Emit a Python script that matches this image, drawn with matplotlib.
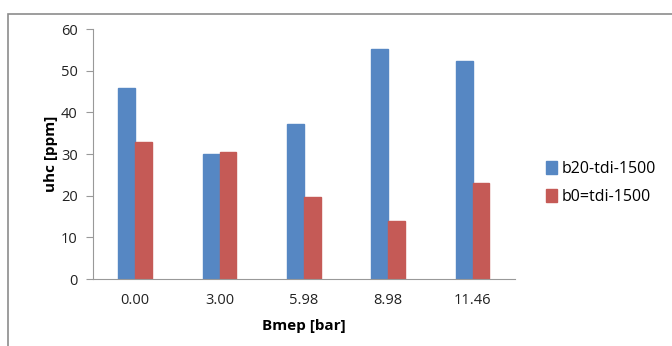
import matplotlib.pyplot as plt
import numpy as np
from matplotlib.patches import Rectangle

categories = ["0.00", "3.00", "5.98", "8.98", "11.46"]
b20 = [45.8, 30.0, 37.3, 55.3, 52.4]
b0 = [32.8, 30.4, 19.8, 14.0, 23.1]
labels = ["b20-tdi-1500", "b0=tdi-1500"]

plt.rcParams['font.family'] = ['Open Sans', 'DejaVu Sans']

fig = plt.figure(figsize=(6.72, 3.46), dpi=100)
ax = fig.add_axes([0.1384, 0.1936, 0.6276, 0.7224])

# gray frame around the chart area
fig.patches.append(Rectangle((8/672, -0.1), 1.1, 1 - 14/346 + 0.1, transform=fig.transFigure,
                             fill=False, edgecolor="#8c8c8c", linewidth=1.2))

x = np.arange(len(categories))
w = 0.2
ax.bar(x - w/2, b20, w, color="#5687C3", edgecolor="#5687C3", label=labels[0])
ax.bar(x + w/2, b0, w, color="#C55A56", edgecolor="#C55A56", label=labels[1])

ax.set_xlim(-0.5, len(categories) - 0.5)
ax.set_ylim(0, 60)
ax.set_yticks(range(0, 61, 10))
ax.set_xticks(x)
ax.set_xticklabels(categories)
ax.tick_params(axis="x", length=0, pad=10, labelsize=10.5, colors="#222222")
ax.tick_params(axis="y", length=5, color="#999999", pad=6, labelsize=10.5, colors="#222222")
for s in ["top", "right"]:
    ax.spines[s].set_visible(False)
ax.spines["left"].set_color("#999999")
ax.spines["bottom"].set_color("#999999")

ax.set_xlabel("Bmep [bar]", fontsize=11, fontweight="bold", labelpad=8)
ax.set_ylabel("uhc [ppm]", fontsize=11, fontweight="bold", labelpad=2)

ax.legend(loc="center left", bbox_to_anchor=(1.04, 0.385), frameon=False, fontsize=11.5,
          handlelength=0.7, handleheight=0.9, handletextpad=0.3, labelspacing=0.75)

fig.savefig("out.png", dpi=100)
